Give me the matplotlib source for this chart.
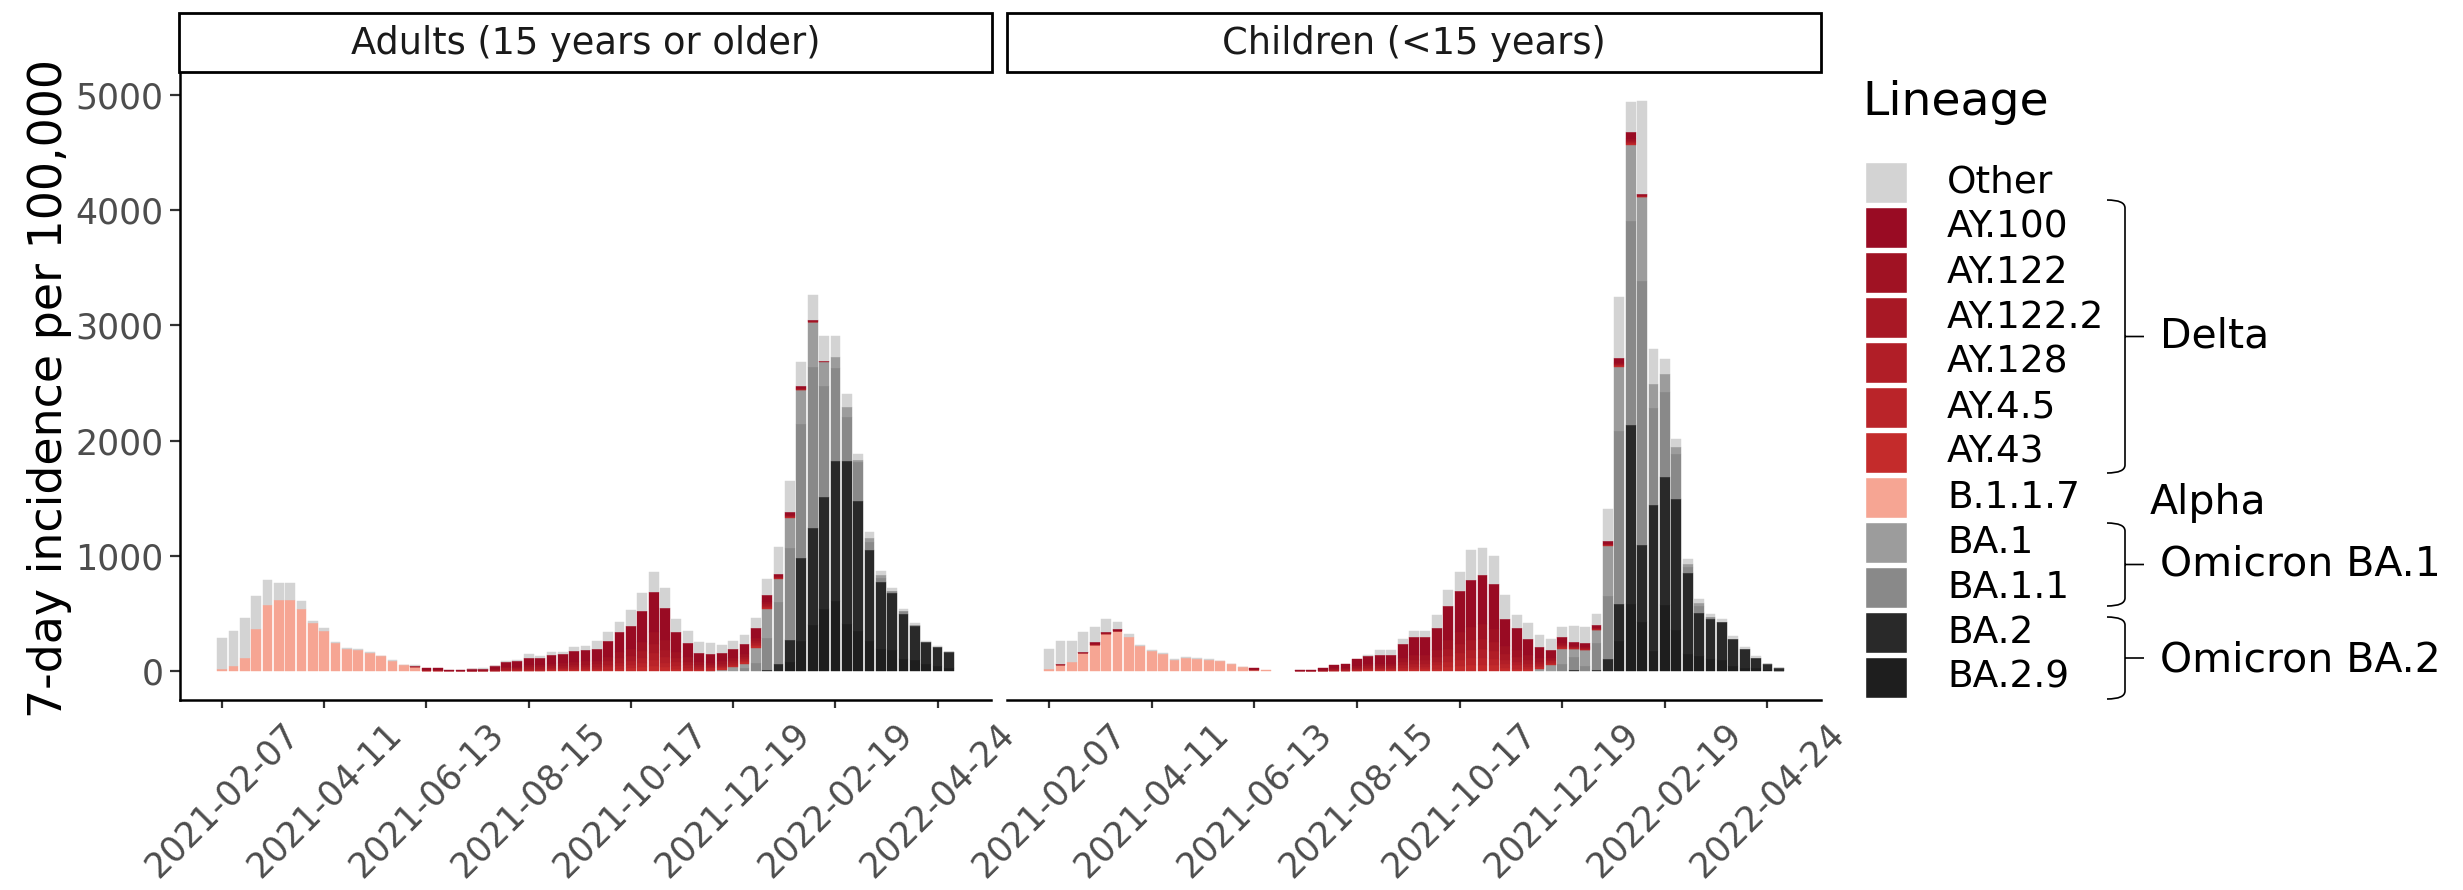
import numpy as np
import matplotlib
matplotlib.use("Agg")
import matplotlib.pyplot as plt
from matplotlib.patches import Rectangle, PathPatch
from matplotlib.path import Path
from matplotlib.transforms import Affine2D

# weekly bars, week 0 = 2021-02-07
weeks = np.arange(65)
tick_idx = [0, 9, 18, 27, 36, 45, 54, 63]
tick_labels = ["2021-02-07", "2021-04-11", "2021-06-13", "2021-08-15",
               "2021-10-17", "2021-12-19", "2022-02-19", "2022-04-24"]

lineages = ["Other", "AY.100", "AY.122", "AY.122.2", "AY.128", "AY.4.5", "AY.43",
            "B.1.1.7", "BA.1", "BA.1.1", "BA.2", "BA.2.9"]
lineage_colors = ["#D3D3D3", "#990B23", "#A01223", "#A81825", "#B11E27", "#BA2429",
                  "#C42B2B", "#F6A593", "#9C9C9C", "#898989", "#292929", "#1E1E1E"]

# ---- adults (15 years or older) ----
other_adults = [269, 304, 347, 289, 211, 145, 145, 67, 20, 20,
                9, 8, 9, 9, 3, 5, 3, 1, 0, 0,
                0, 0, 5, 2, 2, 9, 8, 29, 20, 32,
                21, 34, 35, 69, 78, 90, 136, 156, 168, 179,
                113, 104, 95, 92, 64, 72, 78, 90, 145, 234,
                267, 215, 217, 214, 188, 116, 49, 50, 38, 20,
                20, 12, 8, 5, 3]
ay100_adults = [0, 0, 0, 0, 0, 0, 0, 0, 0, 0,
                0, 0, 0, 0, 0, 0, 0, 6, 12, 12,
                6, 7, 10, 13, 24, 45, 50, 63, 61, 73,
                79, 92, 95, 101, 136, 175, 203, 265, 350, 278,
                173, 127, 82, 76, 74, 78, 88, 87, 59, 22,
                23, 16, 10, 3, 0, 0, 0, 0, 0, 0,
                0, 0, 0, 0, 0]
ay122_adults = [0, 0, 0, 0, 0, 0, 0, 0, 0, 0,
                0, 0, 0, 0, 0, 0, 0, 2, 3, 3,
                2, 2, 3, 4, 7, 13, 14, 18, 18, 21,
                23, 26, 28, 30, 40, 52, 60, 80, 106, 84,
                52, 38, 24, 22, 22, 23, 26, 26, 18, 7,
                7, 5, 3, 1, 0, 0, 0, 0, 0, 0,
                0, 0, 0, 0, 0]
ay1222_adults = [0, 0, 0, 0, 0, 0, 0, 0, 0, 0,
                 0, 0, 0, 0, 0, 0, 0, 1, 2, 2,
                 1, 1, 2, 3, 5, 9, 10, 13, 12, 15,
                 16, 19, 20, 21, 29, 38, 44, 58, 78, 61,
                 38, 28, 18, 16, 16, 17, 19, 19, 13, 5,
                 5, 3, 2, 1, 0, 0, 0, 0, 0, 0,
                 0, 0, 0, 0, 0]
ay128_adults = [0, 0, 0, 0, 0, 0, 0, 0, 0, 0,
                0, 0, 0, 0, 0, 0, 0, 0, 1, 2,
                0, 1, 1, 2, 3, 7, 8, 10, 10, 12,
                13, 15, 16, 17, 23, 30, 35, 46, 62, 49,
                31, 22, 14, 13, 13, 14, 16, 15, 10, 4,
                4, 3, 2, 0, 0, 0, 0, 0, 0, 0,
                0, 0, 0, 0, 0]
ay45_adults = [0, 0, 0, 0, 0, 0, 0, 0, 0, 0,
               0, 0, 0, 0, 0, 0, 0, 1, 1, 1,
               1, 1, 1, 1, 3, 5, 6, 8, 8, 9,
               10, 11, 12, 13, 18, 24, 28, 37, 50, 39,
               25, 18, 12, 11, 10, 11, 12, 12, 8, 3,
               4, 2, 2, 0, 0, 0, 0, 0, 0, 0,
               0, 0, 0, 0, 0]
ay43_adults = [0, 0, 0, 0, 0, 0, 0, 0, 0, 0,
               0, 0, 0, 0, 0, 0, 0, 0, 1, 1,
               0, 0, 1, 1, 2, 5, 5, 7, 7, 9,
               9, 11, 11, 12, 17, 22, 26, 35, 46, 36,
               22, 16, 10, 10, 10, 10, 12, 12, 8, 2,
               3, 2, 1, 0, 0, 0, 0, 0, 0, 0,
               0, 0, 0, 0, 0]
alpha_adults = [23, 46, 116, 365, 579, 622, 622, 544, 420, 353,
                249, 197, 182, 159, 133, 93, 55, 41, 6, 5,
                4, 2, 0, 0, 0, 0, 0, 0, 0, 0,
                0, 0, 0, 0, 0, 0, 0, 0, 0, 0,
                0, 0, 0, 0, 0, 0, 0, 0, 0, 0,
                0, 0, 0, 0, 0, 0, 0, 0, 0, 0,
                0, 0, 0, 0, 0]
ba1_adults = [0, 0, 0, 0, 0, 0, 0, 0, 0, 0,
              0, 0, 0, 0, 0, 0, 0, 0, 0, 0,
              0, 0, 0, 0, 0, 0, 0, 0, 0, 0,
              0, 0, 0, 0, 0, 0, 0, 0, 0, 0,
              0, 0, 0, 5, 17, 38, 40, 130, 252, 203,
              260, 296, 385, 209, 92, 87, 23, 40, 20, 0,
              0, 0, 0, 0, 0]
ba11_adults = [0, 0, 0, 0, 0, 0, 0, 0, 0, 0,
               0, 0, 0, 0, 0, 0, 0, 0, 0, 0,
               0, 0, 0, 0, 0, 0, 0, 0, 0, 0,
               0, 0, 0, 0, 0, 0, 0, 0, 0, 0,
               0, 0, 0, 0, 0, 0, 27, 75, 275, 533,
               802, 1157, 1400, 961, 811, 382, 333, 70, 35, 24,
               29, 11, 0, 0, 0]
ba2_adults = [0, 0, 0, 0, 0, 0, 0, 0, 0, 0,
              0, 0, 0, 0, 0, 0, 0, 0, 0, 0,
              0, 0, 0, 0, 0, 0, 0, 0, 0, 0,
              0, 0, 0, 0, 0, 0, 0, 0, 0, 0,
              0, 0, 0, 0, 0, 0, 0, 0, 17, 69,
              191, 724, 842, 978, 1209, 1412, 1129, 787, 581, 492,
              391, 296, 194, 169, 133]
ba29_adults = [0, 0, 0, 0, 0, 0, 0, 0, 0, 0,
               0, 0, 0, 0, 0, 0, 0, 0, 0, 0,
               0, 0, 0, 0, 0, 0, 0, 0, 0, 0,
               0, 0, 0, 0, 0, 0, 0, 0, 0, 0,
               0, 0, 0, 0, 0, 0, 0, 0, 0, 0,
               81, 263, 400, 538, 611, 408, 350, 263, 197, 185,
               104, 98, 61, 46, 32]

# ---- children (<15 years) ----
other_children = [168, 191, 179, 170, 133, 110, 67, 29, 12, 5,
                  6, 3, 5, 6, 9, 3, 2, 2, 0, 0,
                  0, 0, 0, 0, 0, 0, 0, 0, 6, 43,
                  43, 44, 49, 49, 113, 139, 160, 258, 238, 246,
                  215, 113, 136, 110, 100, 83, 136, 134, 100, 281,
                  530, 260, 810, 309, 126, 64, 44, 36, 28, 29,
                  26, 18, 15, 6, 3]
ay100_children = [0, 8, 0, 8, 12, 8, 9, 0, 0, 0,
                  0, 0, 0, 0, 0, 0, 0, 0, 7, 0,
                  0, 0, 8, 9, 14, 29, 34, 54, 70, 72,
                  72, 124, 153, 153, 191, 290, 357, 404, 426, 385,
                  230, 191, 145, 95, 64, 55, 32, 33, 22, 18,
                  37, 59, 11, 0, 0, 0, 0, 0, 0, 0,
                  0, 0, 0, 0, 0]
ay122_children = [0, 2, 0, 3, 4, 2, 3, 0, 0, 0,
                  0, 0, 0, 0, 0, 0, 0, 0, 2, 0,
                  0, 0, 2, 3, 4, 8, 10, 16, 21, 21,
                  21, 36, 45, 45, 56, 85, 105, 119, 125, 113,
                  68, 56, 43, 28, 19, 16, 9, 10, 6, 5,
                  11, 17, 3, 0, 0, 0, 0, 0, 0, 0,
                  0, 0, 0, 0, 0]
ay1222_children = [0, 2, 0, 2, 3, 2, 2, 0, 0, 0,
                   0, 0, 0, 0, 0, 0, 0, 0, 1, 0,
                   0, 0, 2, 2, 3, 6, 7, 11, 15, 15,
                   15, 26, 33, 33, 41, 62, 77, 87, 92, 83,
                   50, 41, 31, 20, 14, 12, 7, 7, 5, 4,
                   8, 13, 2, 0, 0, 0, 0, 0, 0, 0,
                   0, 0, 0, 0, 0]
ay128_children = [0, 1, 0, 1, 2, 1, 1, 0, 0, 0,
                  0, 0, 0, 0, 0, 0, 0, 0, 1, 0,
                  0, 0, 1, 1, 2, 5, 5, 9, 12, 12,
                  12, 21, 26, 26, 33, 50, 62, 70, 74, 67,
                  40, 33, 25, 16, 11, 10, 5, 6, 4, 3,
                  6, 10, 2, 0, 0, 0, 0, 0, 0, 0,
                  0, 0, 0, 0, 0]
ay45_children = [0, 1, 0, 1, 1, 1, 1, 0, 0, 0,
                 0, 0, 0, 0, 0, 0, 0, 0, 1, 0,
                 0, 0, 1, 1, 2, 4, 4, 7, 9, 10,
                 10, 17, 21, 21, 27, 41, 51, 58, 61, 55,
                 33, 27, 21, 14, 9, 8, 5, 4, 3, 3,
                 5, 8, 2, 0, 0, 0, 0, 0, 0, 0,
                 0, 0, 0, 0, 0]
ay43_children = [0, 0, 0, 0, 1, 0, 1, 0, 0, 0,
                 0, 0, 0, 0, 0, 0, 0, 0, 0, 0,
                 0, 0, 0, 1, 1, 3, 4, 7, 9, 9,
                 9, 16, 20, 20, 25, 39, 48, 55, 58, 52,
                 30, 25, 19, 12, 9, 7, 4, 4, 3, 3,
                 5, 8, 1, 0, 0, 0, 0, 0, 0, 0,
                 0, 0, 0, 0, 0]
alpha_children = [23, 55, 81, 156, 229, 327, 347, 298, 217, 177,
                  153, 101, 119, 110, 98, 87, 62, 36, 14, 14,
                  0, 0, 0, 0, 0, 0, 0, 0, 0, 0,
                  0, 0, 0, 0, 0, 0, 0, 0, 0, 0,
                  0, 0, 0, 0, 0, 0, 0, 0, 0, 0,
                  0, 0, 0, 0, 0, 0, 0, 0, 0, 0,
                  0, 0, 0, 0, 0]
ba1_children = [0, 0, 0, 0, 0, 0, 0, 0, 0, 0,
                0, 0, 0, 0, 0, 0, 0, 0, 0, 0,
                0, 0, 0, 0, 0, 0, 0, 0, 0, 0,
                0, 0, 0, 0, 0, 0, 0, 0, 0, 0,
                0, 0, 0, 23, 58, 126, 72, 134, 108, 439,
                558, 659, 735, 206, 152, 62, 30, 20, 0, 0,
                0, 0, 0, 0, 0]
ba11_children = [0, 0, 0, 0, 0, 0, 0, 0, 0, 0,
                 0, 0, 0, 0, 0, 0, 0, 0, 0, 0,
                 0, 0, 0, 0, 0, 0, 0, 0, 0, 0,
                 0, 0, 0, 0, 0, 0, 0, 0, 0, 0,
                 0, 0, 0, 0, 0, 68, 108, 50, 236, 540,
                 1497, 1764, 2286, 838, 738, 388, 50, 60, 14, 0,
                 0, 0, 0, 0, 0]
ba2_children = [0, 0, 0, 0, 0, 0, 0, 0, 0, 0,
                0, 0, 0, 0, 0, 0, 0, 0, 0, 0,
                0, 0, 0, 0, 0, 0, 0, 0, 0, 0,
                0, 0, 0, 0, 0, 0, 0, 0, 0, 0,
                0, 0, 0, 0, 0, 0, 14, 0, 14, 112,
                321, 1551, 666, 1268, 1116, 1142, 705, 378, 345, 331,
                234, 162, 83, 47, 21]
ba29_children = [0, 0, 0, 0, 0, 0, 0, 0, 0, 0,
                 0, 0, 0, 0, 0, 0, 0, 0, 0, 0,
                 0, 0, 0, 0, 0, 0, 0, 0, 0, 0,
                 0, 0, 0, 0, 0, 0, 0, 0, 0, 0,
                 0, 0, 0, 0, 0, 0, 0, 0, 0, 0,
                 266, 587, 428, 176, 572, 356, 148, 133, 112, 97,
                 50, 32, 32, 15, 8]

adults = [other_adults, ay100_adults, ay122_adults, ay1222_adults, ay128_adults,
          ay45_adults, ay43_adults, alpha_adults, ba1_adults, ba11_adults,
          ba2_adults, ba29_adults]
children = [other_children, ay100_children, ay122_children, ay1222_children,
            ay128_children, ay45_children, ay43_children, alpha_children,
            ba1_children, ba11_children, ba2_children, ba29_children]

W, H = 2463, 890
fig = plt.figure(figsize=(W / 100, H / 100), dpi=100)
# pixel coordinates (y down) -> figure
pix = Affine2D().scale(1.0 / W, -1.0 / H).translate(0, 1) + fig.transFigure


def box(x0, y0, x1, y1):
    return [x0 / W, 1 - y1 / H, (x1 - x0) / W, (y1 - y0) / H]


def draw_panel(ax, series):
    bottom = np.zeros(len(weeks))
    # first lineage sits on top, last one at the bottom
    for vals, col in zip(series[::-1], lineage_colors[::-1]):
        v = np.asarray(vals, dtype=float)
        m = v > 0
        ax.bar(weeks[m], v[m], bottom=bottom[m], width=0.86, color=col,
               edgecolor=col, linewidth=0.3)
        bottom += v
    ax.set_xlim(-3.7, 67.7)
    ax.set_ylim(-247, 5195)
    for s in ["top", "right"]:
        ax.spines[s].set_visible(False)
    ax.spines["bottom"].set_linewidth(1.8)
    ax.spines["left"].set_linewidth(1.8)
    ax.set_xticks(tick_idx)
    ax.set_xticklabels(tick_labels)
    ax.tick_params(axis="x", labelrotation=45, labelsize=25, labelcolor="#4D4D4D",
                   length=6, width=1.6, color="#333333", pad=6)
    ax.set_yticks([0, 1000, 2000, 3000, 4000, 5000])
    ax.tick_params(axis="y", labelsize=25, labelcolor="#4D4D4D",
                   length=7, width=1.6, color="#333333", pad=5)


ax_a = fig.add_axes(box(180, 72, 991, 700))
draw_panel(ax_a, adults)

ax_c = fig.add_axes(box(1007, 72, 1821, 700))
draw_panel(ax_c, children)
ax_c.spines["left"].set_visible(False)
ax_c.tick_params(axis="y", left=False, labelleft=False)

# facet strips
for x0, x1, label in [(179, 992, "Adults (15 years or older)"),
                      (1007, 1821, "Children (<15 years)")]:
    fig.add_artist(Rectangle((x0, 13), x1 - x0, 59, transform=pix,
                             facecolor="white", edgecolor="black", linewidth=2))
    fig.text((x0 + x1) / 2, 43, label, transform=pix, ha="center", va="center",
             fontsize=26.5, color="#1A1A1A")

fig.text(50, 388, "7-day incidence per 100,000", transform=pix, rotation=90,
         ha="center", va="center", fontsize=33)

# legend
fig.text(1862, 115, "Lineage", transform=pix, ha="left", va="baseline", fontsize=34)
for k, (name, col) in enumerate(zip(lineages, lineage_colors)):
    top = 161.8 + 45.0 * k
    fig.add_artist(Rectangle((1865, top), 42, 41, transform=pix,
                             facecolor=col, edgecolor="white", linewidth=1))
    fig.text(1947, top + 21, name, transform=pix, ha="left", va="center",
             fontsize=27)


def brace(y0, y1, x_arm=2107, x_spine=2125, x_tip=2144, r=8):
    ym = (y0 + y1) / 2
    verts = [(x_arm, y0), (x_spine, y0), (x_spine, y0 + r),
             (x_spine, y1 - r), (x_spine, y1), (x_arm, y1),
             (x_spine, ym), (x_tip, ym)]
    codes = [Path.MOVETO, Path.CURVE3, Path.CURVE3,
             Path.LINETO, Path.CURVE3, Path.CURVE3,
             Path.MOVETO, Path.LINETO]
    fig.add_artist(PathPatch(Path(verts, codes), transform=pix, fill=False,
                             edgecolor="black", linewidth=1.2))


brace(200, 473)
brace(523, 606)
brace(617, 699)
fig.text(2160, 337, "Delta", transform=pix, ha="left", va="center", fontsize=29.5)
fig.text(2150, 503, "Alpha", transform=pix, ha="left", va="center", fontsize=29.5)
fig.text(2160, 565, "Omicron BA.1", transform=pix, ha="left", va="center", fontsize=29.5)
fig.text(2160, 660, "Omicron BA.2", transform=pix, ha="left", va="center", fontsize=29.5)

fig.savefig("out.png", dpi=100)
